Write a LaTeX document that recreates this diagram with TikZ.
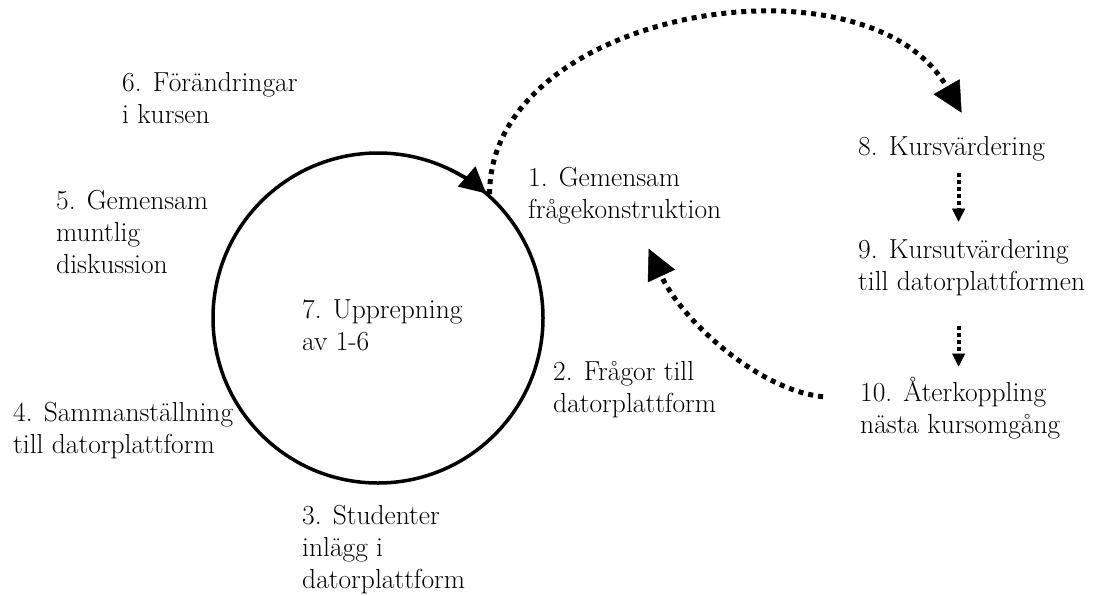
\documentclass[tikz,border=0pt]{standalone}
\usepackage{tikz}
\usetikzlibrary{arrows.meta,positioning,calc}

\begin{document}
\begin{tikzpicture}[x=1pt, y=1pt,
  every node/.style={font=\fontsize{27.5}{32}\selectfont, inner sep=0pt},
  lab/.style={anchor=base west, align=left},
  ring/.style={circle, draw, line width=3.5pt, minimum size=330pt},
  ringarrow/.style={line width=3.5pt, -{Triangle[length=26pt, width=26pt]}},
  bigdot/.style={line width=5pt, dash pattern=on 5pt off 5pt,
                 -{Triangle[length=30pt, width=30pt, line width=0.5pt]}},
  smalldot/.style={line width=4pt, dash pattern=on 4pt off 3pt,
                   -{Triangle[length=13pt, width=13pt, line width=0.5pt]}},
]
\useasboundingbox (0,0) rectangle (1094,-595);

% the cycle (base = last line)
\node[ring] (cyc) at (378,-318) {};
\draw[ringarrow] (cyc.center) ++(64:165) arc[start angle=64, end angle=49, radius=165];

\node[lab] (k6) at (122,-123) {6. Förändringar\\i kursen};
\node[lab] (k5) at (56,-273) {5. Gemensam\\muntlig\\diskussion};
\node[lab] (k7) at (302,-350) {7. Upprepning\\av 1-6};
\node[lab] (k1) at (528,-218) {1. Gemensam\\frågekonstruktion};
\node[lab] (k2) at (553,-412) {2. Frågor till\\datorplattform};
\node[lab] (k3) at (302,-588) {3. Studenter\\inlägg i\\datorplattform};
\node[lab] (k4) at (13,-453) {4. Sammanställning\\till datorplattform};

% the evaluation chain
\node[lab] (k8) at (858,-155) {8. Kursvärdering};
\node[lab] (k9) at (858,-290) {9. Kursutvärdering\\till datorplattformen};
\node[lab] (k10) at (860,-433) {10. Återkoppling\\nästa kursomgång};

\draw[smalldot] ($(k8.south)+(7,-12)$) -- ($(k9.north -| k8.south)+(7,17)$);
\draw[smalldot] ($(k9.south -| k8.south)+(7,-30)$) -- ($(k10.north -| k8.south)+(7,10)$);

\draw[bigdot] (cyc.48) .. controls +(0,185) and +(-95,165) ..
              ($(k8.north)+(10,23)$);
\draw[bigdot] ($(k10.west)+(-37,11)$) .. controls +(-63,6) and +(34,-73) ..
              ($(k1.south)+(24,-25)$);
\end{tikzpicture}
\end{document}
